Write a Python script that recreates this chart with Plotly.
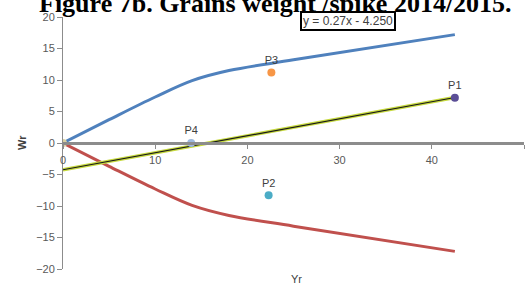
import plotly.graph_objects as go

# upper bound curve
upper_x = [0, 5, 10, 14, 18, 25, 42.5]
upper_y = [0, 3.7, 7.3, 9.9, 11.5, 13.2, 17.2]
# lower bound curve
lower_x = [0, 5, 10, 14, 18, 25, 42.5]
lower_y = [0, -3.7, -7.3, -9.9, -11.5, -13.2, -17.2]
# trend line y = 0.27x - 4.250
trend_x = [0, 42.5]
slope, intercept = 0.27, -4.25
# points
pt_names = ["P1", "P2", "P3", "P4"]
pt_x = [42.5, 22.3, 22.6, 13.9]
pt_y = [7.2, -8.3, 11.2, 0.0]
pt_colors = ["#5B4E96", "#4BACC6", "#F79646", "#9DB9DE"]
origin_x = [0]
origin_y = [0]

trend_y = [slope * x + intercept for x in trend_x]

fig = go.Figure()
fig.add_trace(go.Scatter(x=upper_x, y=upper_y, mode="lines", line=dict(color="#4F81BD", width=3, shape="spline", smoothing=1.0)))
fig.add_trace(go.Scatter(x=lower_x, y=lower_y, mode="lines", line=dict(color="#C0504D", width=3, shape="spline", smoothing=1.0)))
fig.add_trace(go.Scatter(x=trend_x, y=trend_y, mode="lines", line=dict(color="#C6D93E", width=3.5)))
fig.add_trace(go.Scatter(x=trend_x, y=trend_y, mode="lines", line=dict(color="#1a1a1a", width=1.2)))
fig.add_trace(go.Scatter(x=origin_x, y=origin_y, mode="markers", marker=dict(color="#D8CFA0", size=8)))
fig.add_trace(go.Scatter(x=pt_x, y=pt_y, mode="markers+text", text=pt_names, textposition="top center",
                         textfont=dict(family="Liberation Sans", size=11, color="#404040"),
                         marker=dict(color=pt_colors, size=8)))

def py(p):
    # pixel row -> paper y (plot area rows 17..269)
    return (269 - p) / 252

def px(p):
    # pixel column -> paper x (plot area cols 63..524)
    return (p - 63) / 461

fig.update_layout(
    width=530, height=284,
    margin=dict(l=63, r=6, t=17, b=15),
    paper_bgcolor="white", plot_bgcolor="white",
    showlegend=False,
    font=dict(family="Liberation Sans", size=11, color="#595959"),
    xaxis=dict(range=[0, 50], tickvals=[0, 10, 20, 30, 40, 50], showgrid=False, zeroline=False,
               showline=True, linecolor="#8C8C8C", linewidth=2.5, ticks="outside", ticklen=4,
               tickcolor="#8C8C8C", anchor="free", position=0.5, ticklabelstandoff=2,
               automargin=False),
    yaxis=dict(range=[-20, 20], tickvals=[-20, -15, -10, -5, 0, 5, 10, 15, 20], showgrid=False,
               zeroline=False, showline=True, linecolor="#8C8C8C", linewidth=1, ticks="outside",
               ticklen=5, tickcolor="#8C8C8C", automargin=False),
    annotations=[
        dict(text="<b>Figure 7b. Grains weight /spike 2014/2015.</b>", xref="paper", yref="paper",
             x=px(37), y=py(-13), xanchor="left", yanchor="top", showarrow=False,
             font=dict(family="Liberation Serif", size=26, color="black")),
        dict(text="y = 0.27x - 4.250", xref="paper", yref="paper", x=px(348), y=py(11),
             xanchor="center", yanchor="top", showarrow=False, bgcolor="white", bordercolor="black",
             borderwidth=2, borderpad=1, font=dict(family="Liberation Sans", size=12, color="#404040")),
        dict(text="<b>Wr</b>", xref="paper", yref="paper", x=px(22), y=0.5, textangle=-90,
             xanchor="center", yanchor="middle",
             showarrow=False, font=dict(family="Liberation Sans", size=11, color="#404040")),
        dict(text="Yr", xref="paper", yref="paper", x=px(296), y=py(279),
             yanchor="middle", showarrow=False,
             font=dict(family="Liberation Sans", size=11, color="#404040")),
    ],
)

fig.write_html("out.html", config={"displayModeBar": False},
               post_script="document.body.style.margin='0px';")
